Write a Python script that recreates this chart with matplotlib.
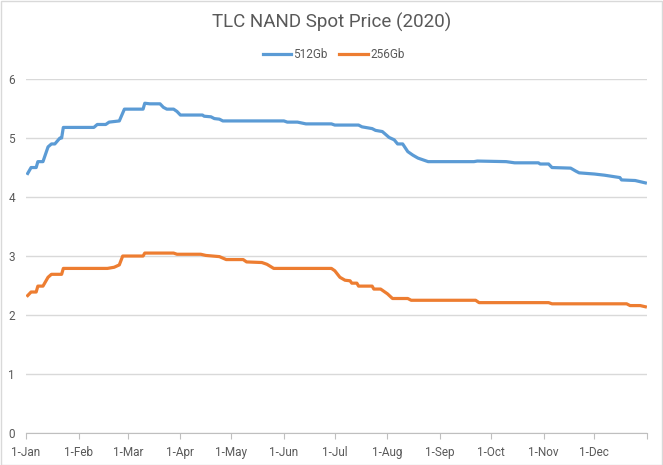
import pandas as pd
import matplotlib.pyplot as plt
import matplotlib.dates as mdates
from matplotlib.patches import Rectangle

# Data (breakpoints of the step-like series)
dates_512 = ["2020-01-02", "2020-01-04", "2020-01-07", "2020-01-08", "2020-01-11",
             "2020-01-14", "2020-01-16", "2020-01-18", "2020-01-21", "2020-01-22",
             "2020-01-23", "2020-02-10", "2020-02-12", "2020-02-17", "2020-02-19",
             "2020-02-25", "2020-02-28", "2020-03-10", "2020-03-11", "2020-03-14",
             "2020-03-20", "2020-03-22", "2020-03-24", "2020-03-28", "2020-03-30",
             "2020-04-01", "2020-04-14", "2020-04-15", "2020-04-19", "2020-04-21",
             "2020-04-24", "2020-04-26", "2020-06-01", "2020-06-03", "2020-06-09",
             "2020-06-14", "2020-06-29", "2020-07-01", "2020-07-15", "2020-07-17",
             "2020-07-23", "2020-07-25", "2020-07-29", "2020-08-02", "2020-08-05",
             "2020-08-07", "2020-08-10", "2020-08-13", "2020-08-16", "2020-08-19",
             "2020-08-22", "2020-08-25", "2020-09-21", "2020-09-23", "2020-10-10",
             "2020-10-15", "2020-10-29", "2020-10-30", "2020-11-04", "2020-11-06",
             "2020-11-17", "2020-11-20", "2020-11-22", "2020-12-01", "2020-12-07",
             "2020-12-16", "2020-12-17", "2020-12-25", "2020-12-31"]
price_512 = [4.40, 4.50, 4.50, 4.60, 4.60,
             4.85, 4.90, 4.90, 5.00, 5.00,
             5.18, 5.18, 5.23, 5.23, 5.27,
             5.29, 5.49, 5.49, 5.59, 5.58,
             5.58, 5.52, 5.49, 5.49, 5.45,
             5.39, 5.39, 5.37, 5.36, 5.33,
             5.32, 5.29, 5.29, 5.27, 5.27,
             5.24, 5.24, 5.22, 5.22, 5.19,
             5.16, 5.13, 5.11, 5.01, 4.97,
             4.90, 4.90, 4.77, 4.71, 4.66,
             4.63, 4.60, 4.60, 4.61, 4.60,
             4.58, 4.58, 4.56, 4.56, 4.50,
             4.49, 4.44, 4.41, 4.39, 4.37,
             4.33, 4.29, 4.28, 4.24]

dates_256 = ["2020-01-02", "2020-01-04", "2020-01-07", "2020-01-08", "2020-01-11",
             "2020-01-14", "2020-01-16", "2020-01-22", "2020-01-23", "2020-02-18",
             "2020-02-22", "2020-02-25", "2020-02-27", "2020-03-10", "2020-03-11",
             "2020-03-28", "2020-03-30", "2020-04-13", "2020-04-16", "2020-04-24",
             "2020-04-28", "2020-05-08", "2020-05-10", "2020-05-19", "2020-05-22",
             "2020-05-26", "2020-06-29", "2020-07-01", "2020-07-04", "2020-07-07",
             "2020-07-10", "2020-07-11", "2020-07-14", "2020-07-15", "2020-07-23",
             "2020-07-24", "2020-07-28", "2020-08-01", "2020-08-04", "2020-08-13",
             "2020-08-15", "2020-09-22", "2020-09-24", "2020-11-04", "2020-11-06",
             "2020-12-20", "2020-12-22", "2020-12-28", "2020-12-31"]
price_256 = [2.33, 2.39, 2.39, 2.49, 2.49,
             2.64, 2.69, 2.69, 2.79, 2.79,
             2.81, 2.85, 3.00, 3.00, 3.05,
             3.05, 3.03, 3.03, 3.01, 2.99,
             2.94, 2.94, 2.90, 2.89, 2.86,
             2.79, 2.79, 2.75, 2.64, 2.59,
             2.58, 2.54, 2.54, 2.49, 2.49,
             2.44, 2.44, 2.36, 2.28, 2.28,
             2.25, 2.25, 2.21, 2.21, 2.19,
             2.19, 2.16, 2.16, 2.14]

grey = "#595959"
plt.rcParams["font.family"] = ["Roboto", "DejaVu Sans"]

fig = plt.figure(figsize=(6.63, 4.65), dpi=100)
ax = fig.add_axes([0.0392, 0.0688, 0.9367, 0.7612])

ax.plot(pd.to_datetime(dates_512), price_512, color="#5B9BD5", lw=2.3,
        label="512Gb", solid_joinstyle="round")
ax.plot(pd.to_datetime(dates_256), price_256, color="#ED7D31", lw=2.3,
        label="256Gb", solid_joinstyle="round")

ax.set_ylim(0, 6)
ax.set_xlim(pd.Timestamp("2020-01-01"), pd.Timestamp("2021-01-01"))
ax.set_yticks(range(0, 7))
ax.xaxis.set_major_locator(mdates.MonthLocator())
ax.xaxis.set_major_formatter(mdates.DateFormatter("1-%b"))
ax.grid(axis="y", color="#D9D9D9", lw=1)
ax.set_axisbelow(True)
for s in ["top", "right", "left"]:
    ax.spines[s].set_visible(False)
ax.spines["bottom"].set_color("#BFBFBF")
ax.tick_params(axis="x", colors="#BFBFBF", length=4, labelcolor=grey,
               labelsize=8.5, pad=5)
ax.tick_params(axis="y", length=0, labelcolor=grey, labelsize=8.5, pad=8)
fig.canvas.draw()
ax.get_xticklabels()[-1].set_visible(False)

fig.text(0.5, 0.952, "TLC NAND Spot Price (2020)", ha="center", va="center",
         fontsize=13.5, color=grey)
fig.legend(loc="center", bbox_to_anchor=(0.503, 0.883), ncol=2, frameon=False,
           fontsize=8.5, labelcolor=grey, handlelength=2.4, columnspacing=1.0,
           handletextpad=0.2)

fig.patches.append(Rectangle((0.001, 0.001), 0.997, 0.997, transform=fig.transFigure,
                             fill=False, edgecolor="#D9D9D9", lw=1))

fig.savefig("out.png", dpi=100)
